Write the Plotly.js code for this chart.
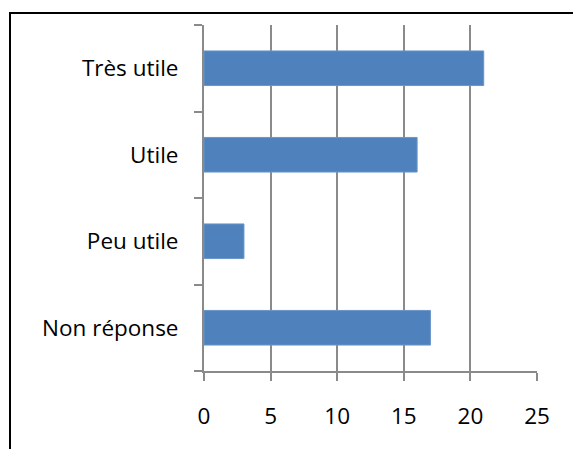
<!DOCTYPE html>
<html><head><meta charset="utf-8">
<script src="https://cdn.plot.ly/plotly-3.0.1.min.js"></script>
<style>
html,body{margin:0;padding:0;background:#fff;}
#wrap{position:relative;width:573px;height:449px;overflow:hidden;}
#frame{position:absolute;left:9px;top:12px;width:600px;height:500px;border-top:2px solid #000;border-left:2px solid #000;}
#chart{position:absolute;left:0;top:0;width:573px;height:449px;}
</style></head>
<body><div id="wrap"><div id="frame"></div><div id="chart"></div></div>
<script>
const categories = ["Non réponse", "Peu utile", "Utile", "Très utile"];
const values = [17, 3, 16, 21];
const xTicks = [0, 5, 10, 15, 20, 25];

const grey = "#8a8a8a";
Plotly.newPlot("chart", [{
  type: "bar",
  orientation: "h",
  y: categories,
  x: values,
  marker: {color: "#4f81bd", line: {color: "#6a95c8", width: 1}},
  hoverinfo: "none"
}], {
  width: 573, height: 449,
  margin: {l: 204, r: 36, t: 25, b: 78},
  paper_bgcolor: "rgba(0,0,0,0)",
  plot_bgcolor: "rgba(0,0,0,0)",
  bargap: 0.6,
  showlegend: false,
  font: {family: "Open Sans", size: 22, color: "#000"},
  xaxis: {
    range: [0, 25], tickvals: xTicks, ticktext: xTicks.map(String),
    showgrid: true, gridcolor: grey, gridwidth: 2,
    zeroline: false, showline: true, linecolor: grey, linewidth: 2,
    ticks: "outside", ticklen: 8, tickwidth: 2, tickcolor: grey,
    ticklabelstandoff: 16,
    tickfont: {family: "Open Sans", size: 22.5, color: "#000"}
  },
  yaxis: {
    type: "category", categoryarray: categories, categoryorder: "array",
    showgrid: false, zeroline: false, showline: true, linecolor: grey, linewidth: 2,
    ticks: "outside", tickson: "boundaries", ticklen: 8, tickwidth: 2, tickcolor: grey,
    ticklabelstandoff: 19,
    tickfont: {family: "Open Sans", size: 22.5, color: "#000"}
  }
}, {staticPlot: true, displayModeBar: false});
</script></body></html>
